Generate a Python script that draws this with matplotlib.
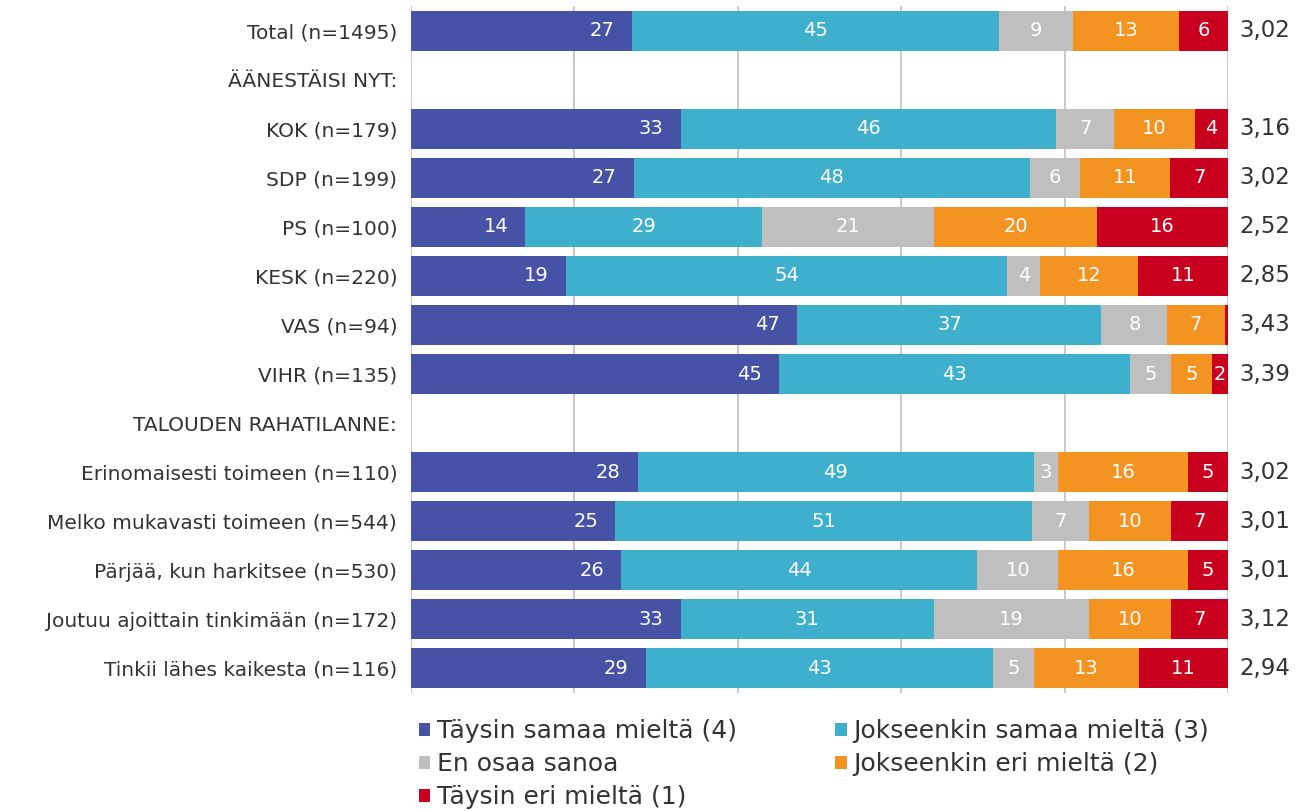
import numpy as np
import matplotlib.pyplot as plt
from matplotlib.patches import Patch

rows = ["Total (n=1495)", "ÄÄNESTÄISI NYT:", "KOK (n=179)", "SDP (n=199)", "PS (n=100)",
        "KESK (n=220)", "VAS (n=94)", "VIHR (n=135)", "TALOUDEN RAHATILANNE:",
        "Erinomaisesti toimeen (n=110)", "Melko mukavasti toimeen (n=544)",
        "Pärjää, kun harkitsee (n=530)", "Joutuu ajoittain tinkimään (n=172)",
        "Tinkii lähes kaikesta (n=116)"]

series = ["Täysin samaa mieltä (4)", "Jokseenkin samaa mieltä (3)", "En osaa sanoa",
          "Jokseenkin eri mieltä (2)", "Täysin eri mieltä (1)"]
colors = ["#4652a6", "#3eb0cd", "#bfbfbf", "#f39322", "#c8001e"]

# None = header row without bar
taysin_samaa = [27, None, 33, 27, 14, 19, 47, 45, None, 28, 25, 26, 33, 29]
jokseenkin_samaa = [45, None, 46, 48, 29, 54, 37, 43, None, 49, 51, 44, 31, 43]
en_osaa = [9, None, 7, 6, 21, 4, 8, 5, None, 3, 7, 10, 19, 5]
jokseenkin_eri = [13, None, 10, 11, 20, 12, 7, 5, None, 16, 10, 16, 10, 13]
taysin_eri = [6, None, 4, 7, 16, 11, 0.4, 2, None, 5, 7, 5, 7, 11]
means = ["3,02", "", "3,16", "3,02", "2,52", "2,85", "3,43", "3,39", "",
         "3,02", "3,01", "3,01", "3,12", "2,94"]

data = [taysin_samaa, jokseenkin_samaa, en_osaa, jokseenkin_eri, taysin_eri]

fig = plt.figure(figsize=(13.02, 8.11), dpi=100)
ax = fig.add_axes([0.3157, 0.1461, 0.6275, 0.8459])

y = np.arange(len(rows))
for i in range(len(rows)):
    if taysin_samaa[i] is None:
        continue
    vals = np.array([d[i] for d in data], dtype=float)
    widths = vals / vals.sum() * 100
    left = 0
    for j, w in enumerate(widths):
        ax.barh(y[i], w, left=left, height=0.82, color=colors[j], zorder=2)
        if round(vals[j]) >= 1:
            if j == 0:
                # first series label sits at the inner end of the bar
                ax.text(left + w - 2.1, y[i], f"{round(vals[j])}", ha="right", va="center",
                        color="white", fontsize=14, zorder=3)
            else:
                ax.text(left + w / 2, y[i], f"{round(vals[j])}", ha="center", va="center",
                        color="white", fontsize=14, zorder=3)
        left += w
    ax.text(101.4, y[i], means[i], ha="left", va="center", fontsize=16.5,
            color="#333333", clip_on=False)

ax.set_xlim(0, 100)
ax.set_ylim(len(rows) - 0.5, -0.5)
ax.set_xticks(np.arange(0, 101, 20))
ax.set_xticklabels([])
ax.tick_params(axis="x", length=0)
ax.tick_params(axis="y", length=0, pad=10)
ax.set_yticks(y)
ax.set_yticklabels(rows, fontsize=14.5, color="#333333")
ax.grid(axis="x", color="#c0c0c0", linewidth=1.2, zorder=0)
for s in ax.spines.values():
    s.set_visible(False)

# row-wise legend order: matplotlib fills columns first
order = [0, 2, 4, 1, 3]
handles = [Patch(facecolor=colors[k], edgecolor="none") for k in order]
labels = [series[k] for k in order]
fig.legend(handles, labels, loc="upper left", bbox_to_anchor=(0.322, 0.113), ncol=2,
           frameon=False, fontsize=18, handlelength=0.45, handleheight=0.45,
           handletextpad=0.25, columnspacing=3.95, labelspacing=0.36,
           labelcolor="#333333", borderaxespad=0, borderpad=0)

fig.savefig("out.png", dpi=100)
